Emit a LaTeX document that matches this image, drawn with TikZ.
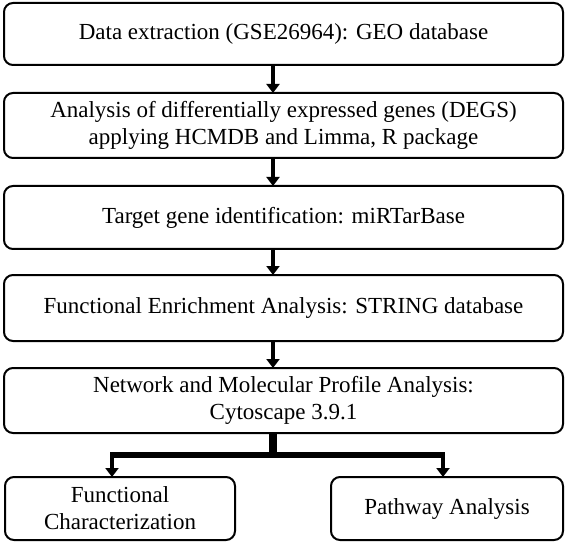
\documentclass[tikz,border=0pt]{standalone}
\usepackage{fontspec}
\setmainfont{Liberation Serif}
\usetikzlibrary{arrows.meta,positioning,calc}

\begin{document}
\begin{tikzpicture}[
   x=1pt, y=-1pt,
   outer sep=0pt,
   box/.style={rectangle, rounded corners=9pt, draw=black, line width=2pt,
               align=center, minimum height=65pt, minimum width=559pt,
               font=\fontsize{23}{27}\selectfont},
   small/.style={box, minimum height=63pt},
   arr/.style={-{Triangle[width=13pt,length=9pt]}, line width=4pt},
   bar/.style={line width=6pt}
]
\useasboundingbox (0,0) rectangle (567,545);
% Steps
\node[box, minimum height=62pt] (geo) at (283.5,34) {Data extraction (GSE26964): GEO database};
\node[box, below=28pt of geo] (degs)
     {Analysis of differentially expressed genes (DEGS)\\applying HCMDB and Limma, R package};
\node[box, below=28pt of degs, minimum height=63pt] (target) {Target gene identification: miRTarBase};
\node[box, below=26pt of target, minimum height=66pt] (string) {Functional Enrichment Analysis: STRING database};
\node[box, below=27pt of string] (net)
     {Network and Molecular Profile Analysis:\\Cytoscape 3.9.1};
% Outcomes
\node[small, minimum width=230pt] (func) at (120,508.5) {Functional\\Characterization};
\node[small, minimum width=232pt] (path) at (447,508.5) {Pathway Analysis};

\coordinate (ax) at (273,0);
\coordinate (split) at (273,455);
\coordinate (lx) at (112,455);
\coordinate (rx) at (443,455);

\draw[arr] (ax |- geo.south) -- (ax |- degs.north);
\draw[arr] (ax |- degs.south) -- (ax |- target.north);
\draw[arr] (ax |- target.south) -- (ax |- string.north);
\draw[arr] (ax |- string.south) -- (ax |- net.north);

\draw[line width=8pt] (ax |- net.south) -- (split);
\draw[bar] ([xshift=-2pt]lx) -- ([xshift=2pt]rx);
\draw[arr] ([yshift=-2pt]lx) -- (lx |- func.north);
\draw[arr] ([yshift=-2pt]rx) -- (rx |- path.north);
\end{tikzpicture}
\end{document}
